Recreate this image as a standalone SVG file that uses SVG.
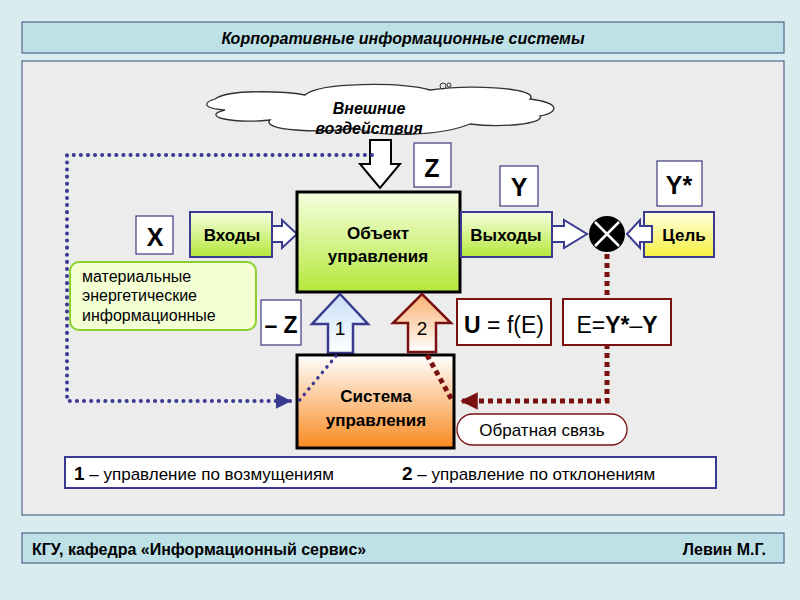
<svg xmlns="http://www.w3.org/2000/svg" width="800" height="600" viewBox="0 0 800 600">
<defs>
<style>
text{font-family:"Liberation Sans",Arial,sans-serif;fill:#000}
.b{font-weight:bold}
.lbl{fill:#fff;stroke:#3a3a80;stroke-width:1.2}
.rl{fill:#fff;stroke:#7a1010;stroke-width:2}
.pa{stroke:#3a3a90;stroke-width:2}
.rd{fill:none;stroke:#7a1010;stroke-width:5;stroke-dasharray:5 4}
</style>
<linearGradient id="g" x1="0" y1="0" x2="0" y2="1"><stop offset="0" stop-color="#f6ffe0"/><stop offset="1" stop-color="#b4e83a"/></linearGradient>
<linearGradient id="yel" x1="0" y1="0" x2="0" y2="1"><stop offset="0" stop-color="#ffffe0"/><stop offset="1" stop-color="#f4f040"/></linearGradient>
<linearGradient id="or" x1="0" y1="0" x2="0" y2="1"><stop offset="0" stop-color="#ffffff"/><stop offset="1" stop-color="#f88a20"/></linearGradient>
<linearGradient id="bl" x1="0" y1="0" x2="0" y2="1"><stop offset="0" stop-color="#c8e0f8"/><stop offset="1" stop-color="#ffffff"/></linearGradient>
<linearGradient id="or2" x1="0" y1="0" x2="0" y2="1"><stop offset="0" stop-color="#f8b070"/><stop offset="1" stop-color="#ffffff"/></linearGradient>
<marker id="ab" viewBox="0 0 10 10" refX="9" refY="5" markerWidth="4" markerHeight="4" orient="auto"><path d="M0,0L10,5L0,10z" fill="#3a3a90"/></marker>
<marker id="ar" viewBox="0 0 10 10" refX="9" refY="5" markerWidth="3.5" markerHeight="3.5" orient="auto"><path d="M0,0L10,5L0,10z" fill="#7a1010"/></marker>
</defs>
<rect width="800" height="600" fill="#d9edf1"/>
<rect x="22" y="22" width="762" height="31" fill="#bde1e7" stroke="#3a4a7a"/>
<text x="403" y="44" text-anchor="middle" font-size="16" class="b" font-style="italic">Корпоративные информационные системы</text>
<rect x="22" y="61" width="762" height="454" fill="#ececec" stroke="#3a4a7a"/>
<rect x="22" y="533" width="762" height="30" fill="#bde1e7" stroke="#3a4a7a"/>
<text x="32" y="555" font-size="16" class="b">КГУ, кафедра «Информационный сервис»</text>
<text x="766" y="555" font-size="16" class="b" text-anchor="end">Левин М.Г.</text>

<g id="cloud">
<path d="M215,99C230,88 290,92 305,95C320,82 400,82 430,90C470,84 540,88 530,99C560,103 560,112 540,116C545,124 500,128 470,124C440,136 380,138 355,128C320,134 260,130 270,120C230,124 200,116 225,110C200,108 205,102 215,99Z" fill="#fff" stroke="#333" stroke-width="1.3"/>
<circle cx="443" cy="86" r="3" fill="none" stroke="#333"/><circle cx="449" cy="85" r="2" fill="none" stroke="#333"/>
<text x="369" y="114" text-anchor="middle" font-size="16" class="b" font-style="italic">Внешние</text>
<text x="369" y="134" text-anchor="middle" font-size="16" class="b" font-style="italic">воздействия</text>
</g>
<g id="downArrow"><path d="M370,140H391V164H400L380,188L360,164H370Z" fill="#fff" stroke="#000" stroke-width="2"/></g>
<g id="z"><rect x="414" y="143" width="37" height="44" class="lbl"/><text x="432" y="177" text-anchor="middle" font-size="25" class="b">Z</text></g>
<g id="y"><rect x="500" y="166" width="38" height="40" class="lbl"/><text x="519" y="196" text-anchor="middle" font-size="25" class="b">Y</text></g>
<g id="ystar"><rect x="657" y="161" width="45" height="45" class="lbl"/><text x="679" y="194" text-anchor="middle" font-size="25" class="b">Y*</text></g>
<g id="x"><rect x="136" y="216" width="37" height="38" class="lbl"/><text x="155" y="246" text-anchor="middle" font-size="25" class="b">X</text></g>

<g id="vhody"><rect x="190" y="212" width="82" height="45" fill="url(#g)" stroke="#3a3a90" stroke-width="2"/>
<path d="M272,226H282V220L297,234L282,248V242H272Z" fill="#fff" class="pa"/>
<text x="232" y="241" text-anchor="middle" font-size="17" class="b">Входы</text></g>
<g id="object"><rect x="297" y="192" width="163" height="100" fill="url(#g)" stroke="#000" stroke-width="3"/>
<text x="378" y="239" text-anchor="middle" font-size="17" class="b">Объект</text>
<text x="378" y="262" text-anchor="middle" font-size="17" class="b">управления</text></g>
<g id="vyhody"><rect x="461" y="212" width="91" height="45" fill="url(#g)" stroke="#3a3a90" stroke-width="2"/>
<path d="M552,226H564V220L587,234L564,248V242H552Z" fill="#fff" class="pa"/>
<text x="506" y="241" text-anchor="middle" font-size="17" class="b">Выходы</text></g>
<g id="sum"><circle cx="607" cy="234" r="18" fill="#000"/><path d="M595,222L619,246M619,222L595,246" stroke="#fff" stroke-width="2.5"/></g>
<g id="cel"><rect x="644" y="212" width="70" height="45" fill="url(#yel)" stroke="#3a3a90" stroke-width="2"/>
<path d="M652,226H640V220L627,234L640,248V242H652Z" fill="#fff" class="pa"/>
<text x="684" y="241" text-anchor="middle" font-size="17" class="b">Цель</text></g>

<g id="types"><rect x="70" y="262" width="186" height="68" rx="9" fill="#f4ffd4" stroke="#8cd030" stroke-width="2"/>
<text x="82" y="282" font-size="16">материальные</text>
<text x="82" y="301" font-size="16">энергетические</text>
<text x="82" y="321" font-size="16">информационные</text></g>
<g id="mz"><rect x="261" y="300" width="40" height="45" class="lbl"/><text x="281" y="333" text-anchor="middle" font-size="23" class="b">– Z</text></g>
<g id="arrow1"><path d="M328,353V324H312L340,294L368,324H353V353Z" fill="url(#bl)" stroke="#3a3a90" stroke-width="2.5"/><text x="340" y="335" text-anchor="middle" font-size="19">1</text></g>
<g id="arrow2"><path d="M408,352V323H393L422,294L451,323H436V352Z" fill="url(#or2)" stroke="#7a1010" stroke-width="2.5"/><text x="422" y="335" text-anchor="middle" font-size="19">2</text></g>
<g id="u"><rect x="457" y="299" width="94" height="46" class="rl"/><text x="504" y="333" text-anchor="middle" font-size="23"><tspan class="b">U</tspan> = f(E)</text></g>
<g id="system"><rect x="297" y="355" width="157" height="93" fill="url(#or)" stroke="#000" stroke-width="3"/>
<text x="376" y="402" text-anchor="middle" font-size="17" class="b">Система</text>
<text x="376" y="426" text-anchor="middle" font-size="17" class="b">управления</text></g>
<g id="feedback"><rect x="457" y="414" width="170" height="31" rx="15.5" fill="#fff" stroke="#7a1010" stroke-width="1.3"/>
<text x="542" y="436" text-anchor="middle" font-size="17">Обратная связь</text></g>
<g id="legend"><rect x="65" y="457" width="651" height="31" fill="#fff" stroke="#3a3a90" stroke-width="2"/>
<text x="74" y="480" font-size="17"><tspan class="b" font-size="19">1</tspan> – управление по возмущениям</text>
<text x="402" y="480" font-size="17"><tspan class="b" font-size="19">2</tspan> – управление по отклонениям</text></g>

<g id="connectors">
<path d="M372,155H67V401H290" fill="none" stroke="#3a3a90" stroke-width="4" stroke-dasharray="0.1 7" stroke-linecap="round" marker-end="url(#ab)"/>
<path d="M336,356L298,402" fill="none" stroke="#3a3a90" stroke-width="3.5" stroke-dasharray="0.1 7" stroke-linecap="round"/>
<path d="M607,254V401H462" class="rd" marker-end="url(#ar)"/>
<path d="M427,355L452,400" class="rd"/>
</g>
<g id="e"><rect x="563" y="299" width="108" height="46" class="rl"/><text x="617" y="333" text-anchor="middle" font-size="23">E=<tspan class="b">Y*</tspan>–<tspan class="b">Y</tspan></text></g>
</svg>
